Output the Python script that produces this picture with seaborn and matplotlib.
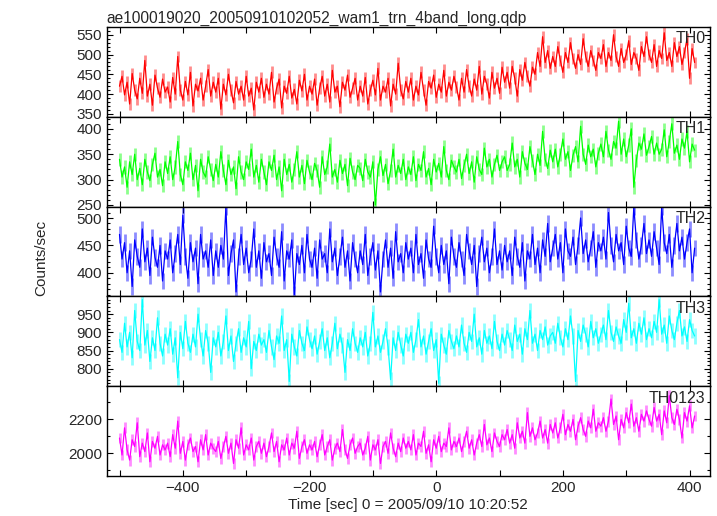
import numpy as np
import pandas as pd
import seaborn as sns
import matplotlib.pyplot as plt
from matplotlib.ticker import MultipleLocator, FuncFormatter

# light curve values (counts/sec), one bin every 4 s starting at -500 s
th0 = [420, 445, 398, 430, 375, 452, 410, 388, 440, 402, 485, 395, 425, 372, 448, 415, 392, 438, 405,
       418, 380, 442, 400, 495, 410, 385, 432, 398, 455, 370, 425, 408, 440, 385, 420, 462, 395, 430,
       405, 440, 362, 425, 398, 450, 410, 378, 432, 400, 420, 385, 445, 395, 415, 360, 430, 405, 440,
       392, 425, 400, 455, 380, 415, 438, 365, 420, 402, 445, 390, 412, 375, 435, 408, 450, 385, 420,
       400, 438, 372, 415, 445, 395, 425, 380, 460, 405, 420, 368, 430, 410, 448, 392, 415, 440, 385,
       420, 395, 442, 375, 410, 435, 398, 465, 385, 420, 405, 440, 370, 425, 400, 478, 410, 388, 432,
       405, 440, 385, 420, 398, 455, 410, 372, 432, 415, 448, 392, 425, 405, 460, 395, 430, 410, 445,
       418, 385, 440, 405, 462, 420, 395, 438, 410, 470, 400, 445, 425, 390, 455, 415, 440, 402, 468,
       430, 455, 415, 470, 440, 395, 462, 435, 480, 445, 420, 468, 450, 505, 470, 545, 480, 510, 465,
       495, 470, 520, 485, 455, 505, 480, 530, 490, 465, 500, 475, 540, 495, 470, 510, 485, 460, 505,
       490, 525, 470, 505, 485, 550, 495, 470, 515, 480, 500, 535, 475, 505, 490, 460, 520, 495, 545,
       500, 480, 525, 470, 510, 490, 555, 485, 505, 470, 530, 495, 520, 475, 505, 540, 440, 515, 480]

th1 = [340, 305, 325, 285, 335, 310, 350, 300, 322, 290, 340, 315, 298, 330, 352, 305, 320, 288, 335,
       312, 345, 300, 325, 375, 310, 290, 335, 318, 352, 300, 328, 278, 340, 315, 305, 345, 320, 298,
       330, 305, 355, 318, 290, 338, 310, 325, 282, 345, 315, 300, 335, 320, 360, 305, 328, 295, 340,
       315, 290, 335, 318, 348, 300, 325, 278, 340, 310, 330, 295, 320, 355, 305, 328, 292, 338, 315,
       300, 332, 318, 285, 345, 310, 325, 370, 305, 320, 295, 338, 312, 330, 288, 342, 315, 300, 328,
       322, 298, 340, 315, 305, 335, 250, 320, 345, 308, 330, 292, 318, 360, 305, 328, 312, 340, 300,
       325, 310, 345, 298, 330, 318, 355, 305, 322, 290, 340, 315, 332, 305, 365, 318, 300, 338, 325,
       315, 340, 302, 328, 350, 312, 335, 295, 345, 320, 310, 362, 325, 340, 305, 330, 348, 318, 335,
       345, 318, 330, 372, 325, 340, 305, 355, 332, 320, 365, 338, 310, 350, 328, 395, 340, 322, 358,
       335, 360, 325, 350, 380, 340, 355, 318, 348, 365, 335, 405, 350, 330, 368, 345, 360, 325, 352,
       370, 345, 395, 358, 340, 375, 362, 415, 350, 380, 345, 368, 400, 285, 338, 372, 360, 390, 348,
       365, 385, 350, 372, 350, 360, 398, 345, 375, 410, 352, 368, 340, 380, 362, 395, 335, 370, 358]

th2 = [470, 425, 455, 400, 440, 375, 460, 430, 410, 480, 420, 445, 395, 465, 428, 410, 450, 385, 440,
       425, 460, 400, 435, 470, 415, 505, 430, 390, 455, 420, 445, 380, 470, 425, 440, 410, 460, 395,
       440, 410, 450, 425, 520, 395, 435, 460, 365, 430, 470, 415, 445, 400, 425, 480, 410, 440, 390,
       455, 420, 435, 395, 465, 430, 410, 475, 385, 440, 425, 460, 360, 435, 415, 450, 400, 470, 425,
       410, 445, 390, 460, 425, 435, 400, 480, 420, 445, 395, 430, 465, 410, 440, 385, 455, 425, 400,
       440, 415, 470, 395, 430, 455, 405, 440, 365, 425, 460, 410, 445, 390, 475, 420, 435, 400, 455,
       425, 445, 400, 470, 415, 435, 390, 460, 425, 410, 485, 430, 400, 450, 415, 440, 380, 465, 430,
       410, 455, 425, 395, 470, 440, 415, 450, 375, 435, 465, 420, 445, 400, 430, 480, 415, 440, 405,
       450, 420, 440, 395, 465, 430, 410, 455, 385, 440, 425, 470, 415, 445, 400, 460, 430, 490, 420,
       445, 470, 425, 455, 400, 480, 440, 430, 465, 415, 450, 500, 435, 460, 420, 445, 475, 410, 455,
       440, 465, 425, 510, 450, 420, 470, 440, 455, 415, 485, 445, 430, 520, 460, 425, 450, 490, 435,
       460, 430, 475, 445, 415, 520, 455, 435, 470, 410, 450, 490, 440, 465, 425, 455, 480, 400, 445]

th3 = [880, 845, 925, 860, 900, 830, 960, 875, 850, 990, 865, 905, 820, 885, 850, 940, 870, 835, 895,
       865, 910, 840, 885, 775, 900, 855, 930, 870, 845, 895, 860, 950, 880, 835, 905, 870, 790, 885,
       860, 900, 835, 875, 945, 850, 890, 820, 870, 910, 845, 885, 860, 930, 800, 875, 850, 895, 865,
       880, 845, 905, 860, 825, 890, 870, 945, 850, 880, 765, 895, 860, 835, 905, 870, 850, 915, 880,
       855, 890, 840, 875, 910, 850, 885, 830, 870, 925, 855, 895, 865, 790, 880, 850, 910, 870, 845,
       885, 860, 900, 835, 870, 955, 860, 890, 845, 875, 910, 860, 770, 885, 850, 900, 865, 835, 895,
       870, 900, 845, 880, 935, 860, 890, 840, 875, 910, 850, 880, 760, 895, 865, 840, 905, 875, 855,
       890, 860, 920, 870, 845, 900, 875, 950, 860, 885, 840, 905, 870, 890, 855, 930, 875, 850, 895,
       865, 905, 880, 850, 920, 875, 895, 840, 910, 880, 960, 870, 895, 850, 905, 880, 915, 865, 890,
       900, 870, 925, 885, 860, 910, 880, 945, 890, 765, 905, 875, 920, 895, 860, 930, 885, 910, 870,
       895, 920, 880, 960, 900, 875, 915, 890, 870, 935, 900, 980, 885, 910, 870, 925, 895, 940, 880,
       910, 885, 930, 900, 990, 895, 920, 870, 945, 905, 880, 925, 960, 890, 915, 875, 935, 905, 890]

th0123 = [2090, 1990, 2150, 2020, 1960, 2080, 2040, 2180, 1980, 2060, 2010, 2120, 1950, 2070, 2030, 2100, 1990, 2050, 2020,
          2060, 1980, 2110, 2030, 2190, 2000, 2070, 1960, 2050, 2090, 2010, 2040, 1950, 2080, 2020, 2110, 1990, 2060, 2030,
          2010, 2070, 1970, 2040, 2100, 2000, 2060, 1940, 2080, 2030, 2150, 1990, 2050, 2020, 2090, 1960, 2040, 2070, 2000,
          2060, 1980, 2040, 2120, 2010, 2070, 1950, 2050, 2020, 2090, 1990, 2060, 2030, 2130, 1970, 2040, 2080, 2000, 2050,
          2020, 2070, 1980, 2050, 2110, 1990, 2040, 2080, 1960, 2030, 2060, 2010, 2140, 2020, 1970, 2050, 2090, 2000, 2040,
          2060, 1990, 2030, 2100, 1960, 2050, 2020, 2080, 1940, 2040, 2070, 2000, 2120, 2030, 1980, 2060, 2010, 2090, 2030,
          2070, 2020, 2110, 1990, 2060, 2040, 2130, 2000, 2050, 1950, 2080, 2030, 2100, 2010, 2060, 2040, 2150, 2020, 2070,
          2040, 2090, 2010, 2070, 2130, 2030, 2080, 1990, 2060, 2110, 2040, 2170, 2050, 2090, 2010, 2120, 2070, 2040, 2110,
          2080, 2140, 2060, 2110, 2030, 2180, 2090, 2130, 2060, 2240, 2100, 2150, 2080, 2120, 2190, 2090, 2140, 2060, 2170,
          2120, 2180, 2090, 2150, 2230, 2110, 2170, 2130, 2200, 2080, 2160, 2210, 2140, 2100, 2190, 2150, 2260, 2130, 2180,
          2160, 2210, 2130, 2190, 2320, 2170, 2220, 2080, 2200, 2150, 2240, 2180, 2290, 2160, 2210, 2130, 2230, 2190, 2250,
          2200, 2160, 2270, 2190, 2230, 2110, 2250, 2180, 2340, 2210, 2170, 2260, 2200, 2090, 2240, 2190, 2280, 2150, 2220]

# typical 1-sigma error bar half-length per band (counts/sec)
errors = [15, 13, 15, 21, 32]

bands = ["TH0", "TH1", "TH2", "TH3", "TH0123"]
series = [th0, th1, th2, th3, th0123]
colors = ["#ff0000", "#00ff00", "#0000ff", "#00ffff", "#ff00ff"]
ylims = [(343, 570), (247, 424), (357, 521), (752, 999), (1866, 2396)]
major = [50, 50, 50, 50, 200]
minor = [10, 10, 10, 10, 100]

t_start = -500
t_bin = 4

sns.set_style("ticks")
plt.rcParams['font.family'] = ['Liberation Sans', 'DejaVu Sans']

fig, axes = plt.subplots(5, 1, figsize=(7.17, 5.16), dpi=100, sharex=True)
fig.subplots_adjust(left=0.149, right=0.990, top=0.948, bottom=0.0775, hspace=0)

for ax, name, vals, err, col, yl, mj, mn in zip(axes, bands, series, errors, colors, ylims, major, minor):
    df = pd.DataFrame({"time": t_start + t_bin * np.arange(len(vals)), "rate": vals})
    # error bars in a lighter shade, then the data line on top
    ax.vlines(df["time"], df["rate"] - err, df["rate"] + err, color=col, lw=2.0, alpha=0.45)
    sns.lineplot(data=df, x="time", y="rate", ax=ax, color=col, lw=0.9)
    ax.set_ylim(*yl)
    ax.set_xlim(-520, 432)
    ax.yaxis.set_major_locator(MultipleLocator(mj))
    ax.yaxis.set_minor_locator(MultipleLocator(mn))
    ax.xaxis.set_major_locator(MultipleLocator(200))
    ax.xaxis.set_minor_locator(MultipleLocator(100))
    ax.tick_params(which="both", direction="in", top=True, right=True, labelsize=11, width=0.8, color="black")
    ax.tick_params(which="major", length=4)
    ax.tick_params(axis="y", which="minor", length=2)
    ax.tick_params(axis="x", which="minor", length=4)
    ax.set_xlabel("")
    ax.set_ylabel("")
    for s in ax.spines.values():
        s.set_linewidth(1.0)
        s.set_color("black")
    ax.text(0.993, 0.95, name, transform=ax.transAxes, ha="right", va="top", fontsize=11.5)

axes[-1].xaxis.set_major_formatter(FuncFormatter(lambda v, p: f"{int(v)}".replace("-", "\u2212")))
axes[-1].set_xlabel("Time [sec] 0 = 2005/09/10 10:20:52", fontsize=11, labelpad=2)
axes[0].set_title("ae100019020_20050910102052_wam1_trn_4band_long.qdp", loc="left", fontsize=11.2, pad=3)
fig.text(0.058, 0.5, "Counts/sec", rotation=90, ha="center", va="center", fontsize=11)

fig.savefig("out.png", dpi=100)
